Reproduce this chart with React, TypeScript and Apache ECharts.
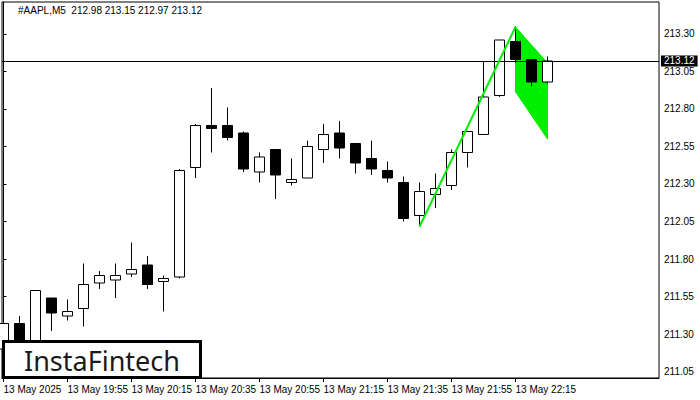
import React, { useEffect, useRef } from "react";
import * as echarts from "echarts";

// 5-minute bars, index 0 = 13 May 2025 19:35
const times = [
  "19:35", "19:40", "19:45", "19:50", "19:55", "20:00", "20:05", "20:10", "20:15", "20:20",
  "20:25", "20:30", "20:35", "20:40", "20:45", "20:50", "20:55", "21:00", "21:05", "21:10",
  "21:15", "21:20", "21:25", "21:30", "21:35", "21:40", "21:45", "21:50", "21:55", "22:00",
  "22:05", "22:10", "22:15", "22:20", "22:25",
];
const opens = [
  211.20, 211.37, 211.22, 211.54, 211.42, 211.47, 211.64, 211.66, 211.70, 211.76,
  211.65, 211.68, 212.41, 212.69, 212.69, 212.64, 212.38, 212.53, 212.31, 212.34,
  212.53, 212.64, 212.57, 212.47, 212.39, 212.31, 212.09, 212.23, 212.29, 212.51,
  212.63, 212.89, 213.25, 213.13, 212.98,
];
const highs = [
  211.38, 211.42, 211.59, 211.54, 211.53, 211.77, 211.72, 211.77, 211.91, 211.82,
  211.69, 212.40, 212.70, 212.94, 212.81, 212.65, 212.51, 212.53, 212.47, 212.59,
  212.70, 212.72, 212.57, 212.59, 212.45, 212.35, 212.31, 212.37, 212.53, 212.65,
  213.12, 213.26, 213.35, 213.13, 213.15,
];
const lows = [
  211.15, 211.20, 211.18, 211.32, 211.39, 211.35, 211.60, 211.54, 211.68, 211.60,
  211.45, 211.67, 212.34, 212.51, 212.59, 212.38, 212.31, 212.20, 212.29, 212.34,
  212.44, 212.47, 212.37, 212.36, 212.31, 212.05, 212.02, 212.14, 212.26, 212.41,
  212.63, 212.88, 213.11, 212.95, 212.97,
];
const closes = [
  211.37, 211.25, 211.59, 211.44, 211.45, 211.63, 211.69, 211.69, 211.73, 211.63,
  211.67, 212.39, 212.69, 212.67, 212.61, 212.40, 212.48, 212.36, 212.33, 212.55,
  212.63, 212.54, 212.44, 212.40, 212.34, 212.07, 212.25, 212.27, 212.51, 212.65,
  212.88, 213.26, 213.13, 212.98, 213.12,
];

const priceTicks = [211.05, 211.3, 211.55, 211.8, 212.05, 212.3, 212.55, 212.8, 213.05, 213.3];
const timeTickIndices = [0, 4, 8, 12, 16, 20, 24, 28, 32];
const currentPrice = 213.12;
const headerText = "#AAPL,M5  212.98 213.15 212.97 213.12";

// Bullish flag pattern: pole (index, price) and flag polygon corners
const poleX = [26, 32];
const poleY = [212.015, 213.347];
const flagX = [32, 34, 34, 32];
const flagY = [213.347, 213.107, 212.6, 212.915];

const GREEN = "#00ee00";
const FONT = "Liberation Sans";

export default function App() {
  const ref = useRef<HTMLDivElement>(null);

  useEffect(() => {
    if (!ref.current) return;
    const chart = echarts.init(ref.current, undefined, { renderer: "svg" });

    const candleData = times.map((_, i) => [i, opens[i], closes[i], lows[i], highs[i]]);
    const poleData = poleX.map((x, i) => [x, poleY[i]]);
    const flagRow: number[] = [];
    flagX.forEach((x, i) => {
      flagRow.push(x, flagY[i]);
    });

    const option: any = {
      animation: false,
      backgroundColor: "#ffffff",
      grid: {
        left: 2,
        top: 2,
        right: 41,
        bottom: 22,
        show: true,
        borderColor: "#000",
        borderWidth: 1,
        backgroundColor: "transparent",
      },
      xAxis: {
        type: "value",
        min: -0.09375,
        max: 40.96875,
        splitLine: { show: false },
        axisLine: { show: true, lineStyle: { color: "#000", width: 1 } },
        axisTick: {
          show: true,
          customValues: timeTickIndices,
          length: 4,
          lineStyle: { color: "#000" },
        },
        axisLabel: {
          show: true,
          customValues: timeTickIndices,
          align: "left",
          margin: 6,
          color: "#000",
          fontFamily: FONT,
          fontSize: 10,
          formatter: (v: number) => {
            const i = Math.round(v);
            return i === 0 ? "13 May 2025" : "13 May " + times[i];
          },
        },
      },
      yAxis: {
        type: "value",
        position: "right",
        min: 211.0067,
        max: 213.5133,
        scale: true,
        splitLine: { show: false },
        axisLine: { show: true, lineStyle: { color: "#000", width: 1 } },
        axisTick: {
          show: true,
          customValues: priceTicks,
          length: 3,
          lineStyle: { color: "#000" },
        },
        axisLabel: {
          show: true,
          customValues: priceTicks,
          margin: 5,
          color: "#000",
          fontFamily: FONT,
          fontSize: 10,
          formatter: (v: number) => v.toFixed(2),
        },
      },
      series: [
        {
          type: "custom",
          z: 1,
          silent: true,
          data: [flagRow],
          encode: { x: [0, 2, 4, 6], y: [1, 3, 5, 7] },
          renderItem: (params: any, api: any) => {
            const pts = [];
            for (let k = 0; k < 4; k++) {
              pts.push(api.coord([api.value(2 * k), api.value(2 * k + 1)]));
            }
            return {
              type: "polygon",
              shape: { points: pts },
              style: { fill: GREEN, stroke: GREEN, lineWidth: 1 },
            };
          },
        },
        {
          type: "candlestick",
          z: 2,
          barWidth: 10,
          data: candleData,
          dimensions: ["x", "open", "close", "lowest", "highest"],
          encode: { x: 0, y: [1, 2, 3, 4] },
          itemStyle: {
            color: "#ffffff",
            color0: "#000000",
            borderColor: "#000000",
            borderColor0: "#000000",
            borderWidth: 1,
          },
          markLine: {
            silent: true,
            symbol: ["none", "none"],
            lineStyle: { color: "#000", width: 1, type: "solid" },
            label: {
              show: true,
              position: "end",
              distance: 2,
              formatter: currentPrice.toFixed(2),
              color: "#fff",
              backgroundColor: "#000",
              padding: [1, 3, 0, 3],
              fontFamily: FONT,
              fontSize: 10,
            },
            data: [{ yAxis: currentPrice }],
          },
        },
        {
          type: "line",
          z: 5,
          silent: true,
          data: poleData,
          symbol: "none",
          lineStyle: { color: GREEN, width: 2 },
        },
      ],
      graphic: [
        {
          type: "text",
          left: 18,
          top: 5,
          z: 20,
          style: { text: headerText, fill: "#000", font: `10px "${FONT}"` },
        },
        {
          type: "rect",
          z: 30,
          shape: { x: 3.5, y: 341.5, width: 197, height: 36 },
          style: { fill: "#fff", stroke: "#000", lineWidth: 3 },
        },
        {
          type: "text",
          z: 31,
          x: 102,
          y: 360,
          style: {
            text: "InstaFintech",
            fill: "#1a1a1a",
            font: '27px "Noto Sans"',
            textAlign: "center",
            textVerticalAlign: "middle",
          },
        },
      ],
    };

    chart.setOption(option);
    return () => chart.dispose();
  }, []);

  return (
    <div
      ref={ref}
      style={{ position: "fixed", left: 0, top: 0, width: 700, height: 400, background: "#fff" }}
    />
  );
}
